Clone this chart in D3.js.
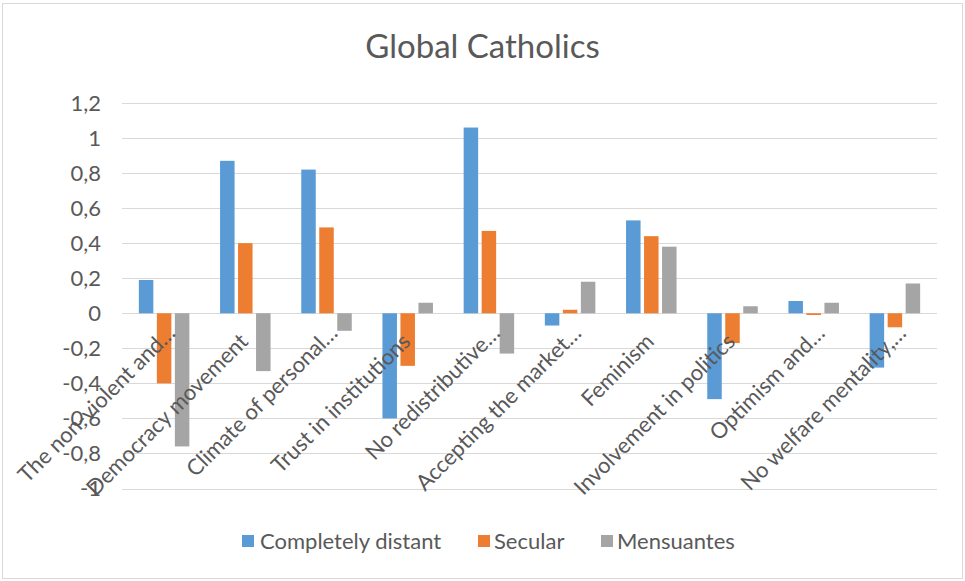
<!DOCTYPE html>
<html>
<head>
<meta charset="utf-8">
<script src="https://cdn.jsdelivr.net/npm/d3@7/dist/d3.min.js"></script>
<style>
  html, body { margin: 0; padding: 0; background: #fff; }
  svg text { font-family: Lato, "Open Sans", sans-serif; fill: #595959; }
</style>
</head>
<body>
<svg id="chart" width="965" height="581"></svg>
<script>
const title = "Global Catholics";
const categories = [
  "The non-violent and…",
  "Democracy movement",
  "Climate of personal…",
  "Trust in institutions",
  "No redistributive…",
  "Accepting the market…",
  "Feminism",
  "Involvement in politics",
  "Optimism and…",
  "No welfare mentality,…"
];
const seriesNames = ["Completely distant", "Secular", "Mensuantes"];
const completelyDistant = [0.19, 0.87, 0.82, -0.60, 1.06, -0.07, 0.53, -0.49, 0.07, -0.31];
const secular           = [-0.40, 0.40, 0.49, -0.30, 0.47, 0.02, 0.44, -0.17, -0.01, -0.08];
const mensuantes        = [-0.76, -0.33, -0.10, 0.06, -0.23, 0.18, 0.38, 0.04, 0.06, 0.17];
const seriesValues = [completelyDistant, secular, mensuantes];
const colors = ["#5B9BD5", "#ED7D31", "#A5A5A5"];
const yTicks = [-1, -0.8, -0.6, -0.4, -0.2, 0, 0.2, 0.4, 0.6, 0.8, 1, 1.2];

const svg = d3.select("#chart");
const W = 965, H = 581;

// outer chart border
svg.append("rect")
  .attr("x", 2.5).attr("y", 3.5).attr("width", 960).attr("height", 575)
  .attr("fill", "#fff").attr("stroke", "#d9d9d9").attr("stroke-width", 1);

const plot = { left: 123.5, right: 935.5, top: 103, bottom: 488.5 };

const x = d3.scaleBand().domain(categories).range([plot.left, plot.right]).paddingInner(0).paddingOuter(0);
const y = d3.scaleLinear().domain([-1, 1.2]).range([plot.bottom, plot.top]);

const barW = 14.5, barStep = 18;
const sub = d3.scaleBand().domain(seriesNames)
  .range([-barStep * 1.5, barStep * 1.5]).paddingInner((barStep - barW) / barStep).paddingOuter((barStep - barW) / barStep / 2);

const locale = d3.formatLocale({ decimal: ",", thousands: ".", grouping: [3], currency: ["", ""], minus: "-" });
const fmt = locale.format("~g");

// gridlines
svg.append("g").selectAll("line").data(yTicks).join("line")
  .attr("x1", 122).attr("x2", 937)
  .attr("y1", d => Math.round(y(d)) + 0.5).attr("y2", d => Math.round(y(d)) + 0.5)
  .attr("stroke", "#d9d9d9").attr("stroke-width", 1.2);

// y axis labels
svg.append("g").selectAll("text").data(yTicks).join("text")
  .attr("x", 101).attr("y", d => y(d))
  .attr("dy", "0.35em")
  .attr("text-anchor", "end")
  .style("font-size", "22px")
  .text(d => fmt(d));

// bars
const groups = svg.append("g").selectAll("g").data(categories).join("g")
  .attr("transform", c => `translate(${x(c) + x.bandwidth() / 2},0)`);
groups.selectAll("rect")
  .data((c, i) => seriesNames.map((s, j) => ({ s, v: seriesValues[j][i], color: colors[j] })))
  .join("rect")
  .attr("x", d => sub(d.s))
  .attr("width", sub.bandwidth())
  .attr("y", d => y(Math.max(0, d.v)))
  .attr("height", d => Math.abs(y(d.v) - y(0)))
  .attr("fill", d => d.color);

// category labels (rotated)
svg.append("g").selectAll("text").data(categories).join("text")
  .attr("transform", c => `translate(${x(c) + x.bandwidth() / 2 + 4},343) rotate(-45)`)
  .attr("text-anchor", "end")
  .attr("dx", c => c.endsWith("…") ? 12 : 0)
  .style("font-size", "22px")
  .text(c => c);

// title
svg.append("text")
  .attr("x", W / 2).attr("y", 58)
  .attr("text-anchor", "middle")
  .style("font-size", "33px")
  .text(title);

// legend
const legendItems = [
  { name: seriesNames[0], color: colors[0], sx: 242, tx: 260 },
  { name: seriesNames[1], color: colors[1], sx: 478, tx: 494 },
  { name: seriesNames[2], color: colors[2], sx: 601, tx: 617 }
];
const lg = svg.append("g");
lg.selectAll("rect").data(legendItems).join("rect")
  .attr("x", d => d.sx).attr("y", 535).attr("width", 12).attr("height", 12)
  .attr("fill", d => d.color);
lg.selectAll("text").data(legendItems).join("text")
  .attr("x", d => d.tx).attr("y", 541).attr("dy", "0.35em")
  .style("font-size", "22px")
  .text(d => d.name);
</script>
</body>
</html>
